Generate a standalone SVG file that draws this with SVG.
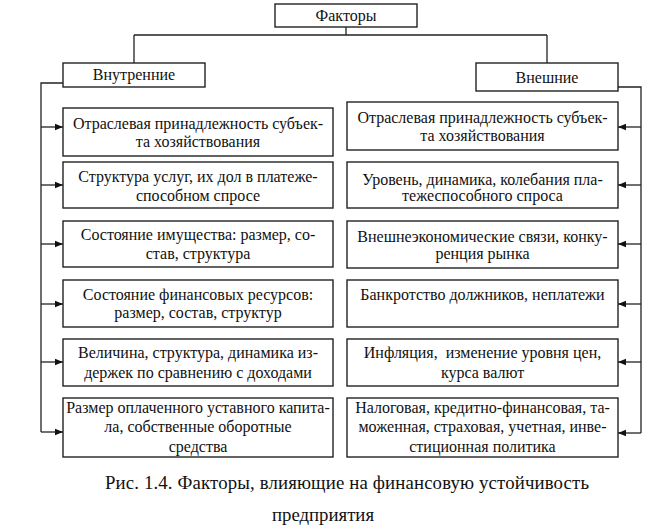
<svg xmlns="http://www.w3.org/2000/svg" width="646" height="531" viewBox="0 0 646 531" font-family="'Liberation Serif', 'DejaVu Serif', serif">
<style>
.box{fill:#fff;stroke:#222;stroke-width:1.4}
.ln{fill:none;stroke:#222;stroke-width:1.3}
text{font-family:'Liberation Serif','DejaVu Serif',serif;font-size:16px;fill:#111;text-anchor:middle}
.cap{font-size:18.8px}
</style>
<defs>
<marker id="ah" markerUnits="userSpaceOnUse" markerWidth="9" markerHeight="8" refX="8" refY="4" orient="auto">
<path d="M0,0.8 L8,4 L0,7.2 Z" fill="#111"/>
</marker>
</defs>
<rect width="646" height="531" fill="#fff"/>
<g id="connectors">
<path class="ln" d="M346,27 V35 M134,35 H547 M134,35 V63 M547,35 V63"/>
<path class="ln" d="M63,83 H41 V432"/>
<path class="ln" d="M618,87 H641 V433"/>
<path class="ln" marker-end="url(#ah)" d="M41,127 H63"/>
<path class="ln" marker-end="url(#ah)" d="M41,185 H63"/>
<path class="ln" marker-end="url(#ah)" d="M41,244 H63"/>
<path class="ln" marker-end="url(#ah)" d="M41,304 H63"/>
<path class="ln" marker-end="url(#ah)" d="M41,362 H63"/>
<path class="ln" marker-end="url(#ah)" d="M41,432 H63"/>
<path class="ln" marker-end="url(#ah)" d="M641,127 H618"/>
<path class="ln" marker-end="url(#ah)" d="M641,185 H618"/>
<path class="ln" marker-end="url(#ah)" d="M641,244 H618"/>
<path class="ln" marker-end="url(#ah)" d="M641,304 H618"/>
<path class="ln" marker-end="url(#ah)" d="M641,362 H618"/>
<path class="ln" marker-end="url(#ah)" d="M641,433 H618"/>
</g>
<g id="factors"><rect class="box" x="275" y="4" width="142" height="23"/><text x="346" y="21">Факторы</text></g>
<g id="internal"><rect class="box" x="63" y="63" width="142" height="24"/><text x="134" y="80">Внутренние</text></g>
<g id="external"><rect class="box" x="476" y="63" width="142" height="28"/><text x="547" y="83">Внешние</text></g>

<g id="in1"><rect class="box" x="63" y="108" width="270" height="48"/><text x="198" y="129">Отраслевая принадлежность субъек-</text><text x="198" y="147">та хозяйствования</text></g>
<g id="in2"><rect class="box" x="63" y="162" width="270" height="46"/><text x="198" y="182">Структура услуг, их дол в платеже-</text><text x="198" y="201">способном спросе</text></g>
<g id="in3"><rect class="box" x="63" y="221" width="270" height="46"/><text x="198" y="240">Состояние имущества: размер, со-</text><text x="198" y="259">став, структура</text></g>
<g id="in4"><rect class="box" x="63" y="280" width="270" height="47"/><text x="198" y="300">Состояние финансовых ресурсов:</text><text x="198" y="318">размер, состав, структур</text></g>
<g id="in5"><rect class="box" x="63" y="339" width="270" height="47"/><text x="198" y="358">Величина, структура, динамика из-</text><text x="198" y="378">держек по сравнению с доходами</text></g>
<g id="in6"><rect class="box" x="63" y="398" width="270" height="59"/><text x="198" y="413">Размер оплаченного уставного капита-</text><text x="198" y="432">ла, собственные оборотные</text><text x="198" y="452">средства</text></g>

<g id="ex1"><rect class="box" x="347" y="102" width="271" height="48"/><text x="482.5" y="123">Отраслевая принадлежность субъек-</text><text x="482.5" y="141">та хозяйствования</text></g>
<g id="ex2"><rect class="box" x="347" y="162" width="271" height="46"/><text x="482.5" y="185">Уровень, динамика, колебания пла-</text><text x="482.5" y="201">тежеспособного спроса</text></g>
<g id="ex3"><rect class="box" x="347" y="221" width="271" height="47"/><text x="482.5" y="242">Внешнеэкономические связи, конку-</text><text x="482.5" y="259">ренция рынка</text></g>
<g id="ex4"><rect class="box" x="347" y="280" width="271" height="47"/><text x="482.5" y="300">Банкротство должников, неплатежи</text></g>
<g id="ex5"><rect class="box" x="347" y="339" width="271" height="47"/><text x="482.5" y="358">Инфляция,&#160; изменение уровня цен,</text><text x="482.5" y="378">курса валют</text></g>
<g id="ex6"><rect class="box" x="347" y="398" width="271" height="59"/><text x="482.5" y="413">Налоговая, кредитно-финансовая, та-</text><text x="482.5" y="432">моженная, страховая, учетная, инве-</text><text x="482.5" y="452">стиционная политика</text></g>

<g id="caption"><text class="cap" x="347" y="489" textLength="484" lengthAdjust="spacing">Рис. 1.4. Факторы, влияющие на финансовую устойчивость</text><text class="cap" x="323" y="521">предприятия</text></g>
</svg>
